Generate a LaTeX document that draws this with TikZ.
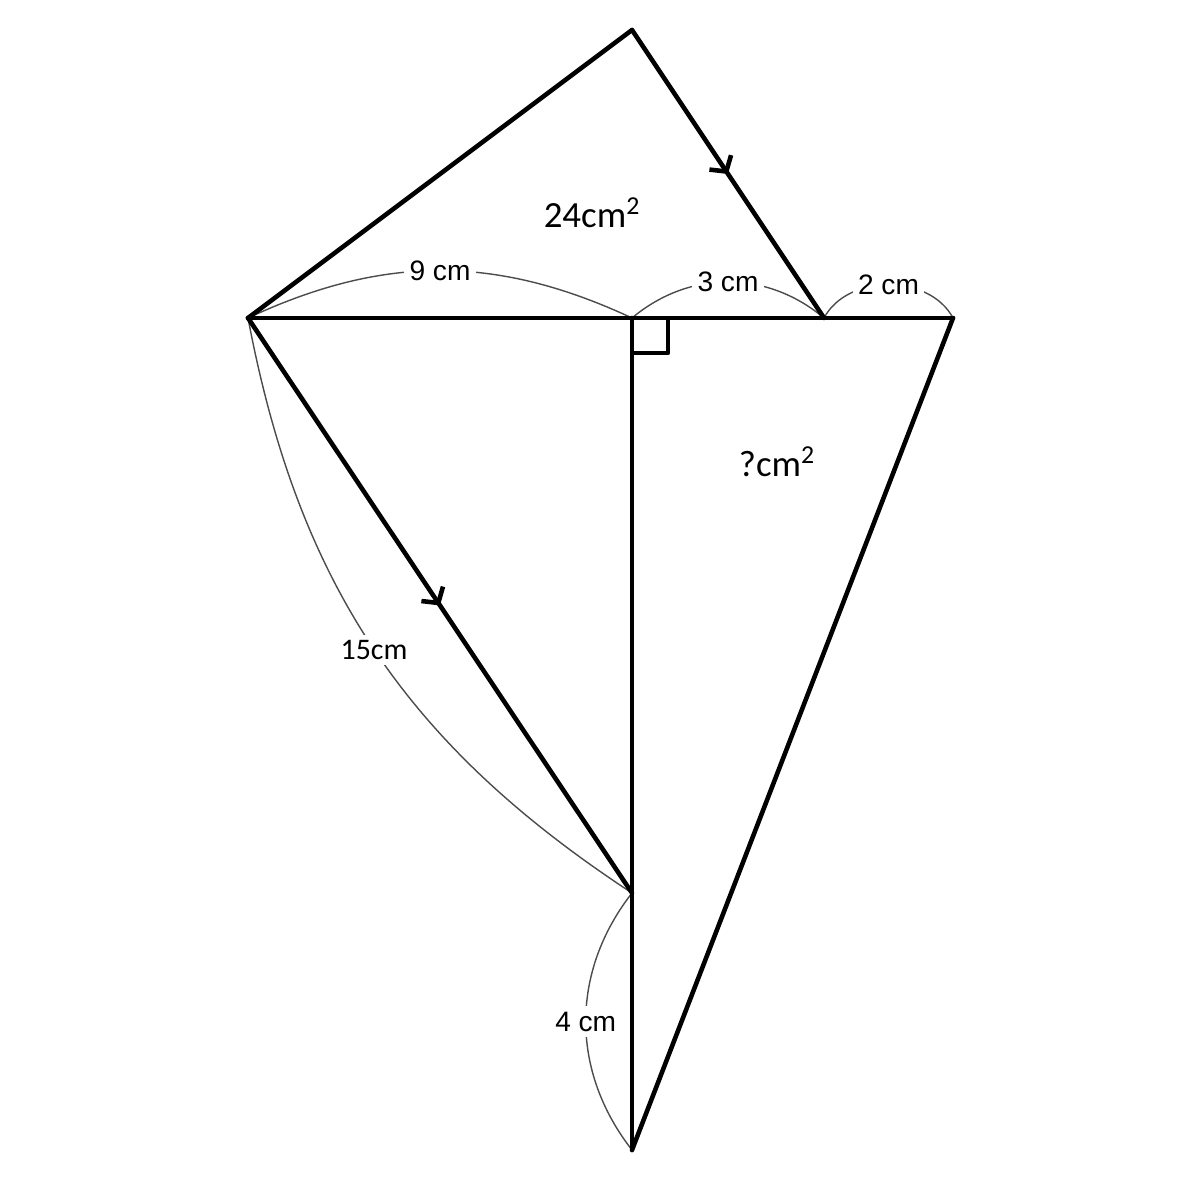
\documentclass[tikz,border=0pt]{standalone}
\usepackage{fontspec}
\setmainfont{Liberation Sans}
\newfontfamily\areafont{Carlito}
\usetikzlibrary{arrows.meta,decorations.markings}
\tikzset{
	edge/.style={line width=2.6pt, line join=round, line cap=round},
	dim/.style={black!70, line width=0.8pt},
	dimlabel/.style={fill=white, inner sep=3pt, text=black, font=\fontsize{16}{18}\selectfont},
	midarrow/.style={postaction={decorate,decoration={markings,
		mark=at position 0.5 with {\arrow{Straight Barb[length=2.2mm,width=5.2mm,line width=2.6pt]}}}}}
}
\begin{document}
\begin{tikzpicture}[x=0.02cm, y=-0.02cm]
	\useasboundingbox (0,0) rectangle (1200,1195);
	\coordinate (A) at (248,318);
	\coordinate (O) at (632,318);
	\coordinate (P) at (824,318);
	\coordinate (R) at (953,318);
	\coordinate (T) at (632,30);
	\coordinate (M) at (632,893);
	\coordinate (B) at (632,1150);
	% measure arcs
	\draw[dim] (A) to[bend left=25] node[dimlabel] {9 cm} (O);
	\draw[dim] (O) to[bend left=40] node[dimlabel] {3 cm} (P);
	\draw[dim] (P) to[bend left=62] node[dimlabel] {2 cm} (R);
	\draw[dim] (A) to[bend right=23] node[dimlabel, font=\areafont\fontsize{17}{19}\selectfont] {15cm} (M);
	\draw[dim] (M) to[bend right=38] node[dimlabel] {4 cm} (B);
	% figure
	\draw[edge] (A) -- (T);
	\draw[edge, midarrow] (T) -- (P);
	\draw[edge] (A) -- (R);
	\draw[edge] (T) ++(0,288) -- (B);
	\draw[edge, midarrow] (A) -- (M);
	\draw[edge] (R) -- (B);
	\draw[edge, line cap=butt] (O) ++(0,35) -- ++(36,0) -- ++(0,-35);
	% areas
	\node[font=\areafont\fontsize{21}{24}\selectfont] (upper) at (592,213) {24cm\textsuperscript{2}};
	\node[font=\areafont\fontsize{21}{24}\selectfont] (lower) at (777,462) {?cm\textsuperscript{2}};
\end{tikzpicture}
\end{document}
